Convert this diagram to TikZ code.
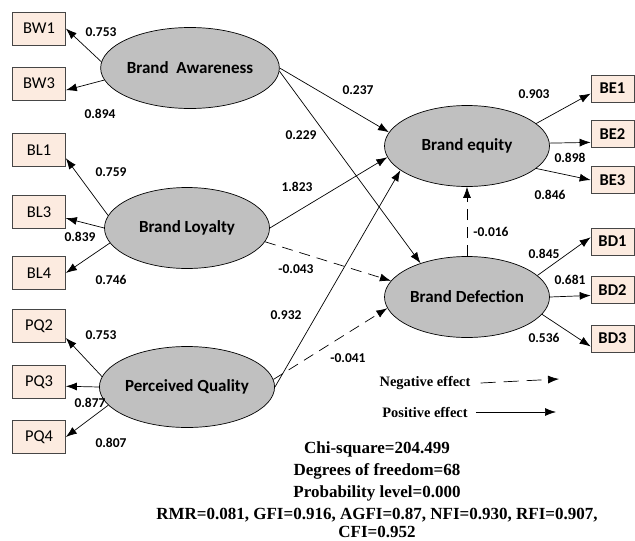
\documentclass[tikz,border=0pt]{standalone}
\usepackage{fontspec}
\setmainfont{Carlito}
\newfontfamily\statfont{Liberation Serif}
\usetikzlibrary{shapes.geometric,arrows.meta}
\definecolor{latentgray}{RGB}{192,192,192}
\definecolor{boxfill}{RGB}{252,235,224}
\definecolor{boxline}{RGB}{70,70,70}

\begin{document}
\begin{tikzpicture}[x=1pt,y=-1pt,
  latent/.style={ellipse,draw,fill=latentgray,line width=0.7pt,minimum width=165pt,minimum height=81pt,inner sep=0pt,font=\fontsize{17}{20}\selectfont\bfseries},
  item/.style={draw=boxline,fill=boxfill,line width=0.7pt,minimum width=53pt,minimum height=33pt,inner sep=0pt,font=\fontsize{16.5}{19}\selectfont},
  ritem/.style={item,minimum width=43pt,minimum height=27pt,font=\fontsize{16.5}{19}\selectfont\bfseries},
  load/.style={-{Latex[length=11pt,width=8pt]},line width=0.7pt},
  neg/.style={load,dash pattern=on 11pt off 7pt},
  coef/.style={font=\fontsize{13.5}{15}\selectfont\bfseries,inner sep=0pt},
  legend/.style={font=\statfont\fontsize{14.4}{16}\selectfont\bfseries,inner sep=0pt}]
  \useasboundingbox (0,0) rectangle (635,541);
  % Latent constructs
  \node[latent] (BA)  at (190,68)  {Brand~~Awareness};
  \node[latent] (BLy) at (187,228) {Brand Loyalty};
  \node[latent] (PQ)  at (187,387) {Perceived Quality};
  \node[latent] (BEq) at (467,146) {Brand equity};
  \node[latent] (BDf) at (467,297) {Brand Defection};
  % Left-hand side indicators
  \node[item] (BW1) at (39,28.5) {BW1};
  \node[item] (BW3) at (39,83.5) {BW3};
  \node[item] (BL1) at (39,150)  {BL1};
  \node[item] (BL3) at (39,212)  {BL3};
  \node[item] (BL4) at (39,273)  {BL4};
  \node[item] (PQ2) at (39,326)  {PQ2};
  \node[item] (PQ3) at (39,382)  {PQ3};
  \node[item] (PQ4) at (39,437)  {PQ4};
  % Right-hand side indicators
  \node[ritem] (BE1) at (612.5,88.5)  {BE1};
  \node[ritem] (BE2) at (612.5,134)   {BE2};
  \node[ritem] (BE3) at (612.5,180)   {BE3};
  \node[ritem] (BD1) at (612.5,241.5) {BD1};
  \node[ritem] (BD2) at (612.5,290)   {BD2};
  \node[ritem] (BD3) at (612.5,338.5) {BD3};
  % Loadings
  \draw[load] (BA.176)  -- (BW1.east);
  \draw[load] (BA.188)  -- (BW3.-14);
  \draw[load] (BLy.171) -- (BL1.-17);
  \draw[load] (BLy.west) -- (BL3.-13);
  \draw[load] (BLy.191) -- (BL4.east);
  \draw[load] (PQ.173)  -- (PQ2.-24);
  \draw[load] (PQ.west) -- (PQ3.-9);
  \draw[load] (PQ.193)  -- (PQ4.east);
  \draw[load] (BEq.18)  -- (BE1.193);
  \draw[load] (BEq.2)   -- (BE2.201);
  \draw[load] (BEq.-18) -- (BE3.west);
  \draw[load] (BDf.17)  -- (BD1.169);
  \draw[load] (BDf.east) -- (BD2.194);
  \draw[load] (BDf.-13) -- (BD3.200);
  \node[coef] at (101,32)  {0.753};
  \node[coef] at (100,114) {0.894};
  \node[coef] at (111,172) {0.759};
  \node[coef] at (80,237)  {0.839};
  \node[coef] at (111,280) {0.746};
  \node[coef] at (101,335) {0.753};
  \node[coef] at (90,403)  {0.877};
  \node[coef] at (111,443) {0.807};
  \node[coef] at (534,94)  {0.903};
  \node[coef] at (570,158) {0.898};
  \node[coef] at (550,195) {0.846};
  \node[coef] at (544,254) {0.845};
  \node[coef] at (570,280) {0.681};
  \node[coef] at (544,338) {0.536};
  % Structural paths
  \draw[load] (BA.east)  -- (BEq.170);
  \draw[load] (BA.-2)    -- (BDf.144);
  \draw[load] (BLy.east) -- (BEq.188);
  \draw[neg]  (BLy.-10)  -- (BDf.168);
  \draw[load] (PQ.east)  -- (BEq.200);
  \draw[neg]  (PQ.5)     -- (BDf.188);
  \draw[neg]  (BDf.north) -- (BEq.south);
  \node[coef] at (358,90)  {0.237};
  \node[coef] at (301,135) {0.229};
  \node[coef] at (297,187) {1.823};
  \node[coef] at (296,269) {-0.043};
  \node[coef] at (286,315) {0.932};
  \node[coef] at (348,358) {-0.041};
  \node[coef] at (491,232) {-0.016};
  % Legend
  \node[legend] (negtxt) at (425,383) {Negative effect};
  \node[legend] (postxt) at (425,412) {Positive effect};
  \coordinate (negend) at (559,379);
  \coordinate (posend) at (556,412);
  \draw[load,dash pattern=on 15pt off 8pt] ([xshift=10pt]negtxt.east) -- (negend);
  \draw[load] ([xshift=8pt]postxt.east) -- (posend);
  % Fit indices
  \node[font=\statfont\fontsize{17}{22}\selectfont\bfseries,align=center,inner sep=0pt] (fit) at (377,490)
    {Chi-square=204.499\\Degrees of freedom=68\\Probability level=0.000\\RMR=0.081, GFI=0.916, AGFI=0.87, NFI=0.930, RFI=0.907,\\[-4pt]CFI=0.952};
\end{tikzpicture}
\end{document}
